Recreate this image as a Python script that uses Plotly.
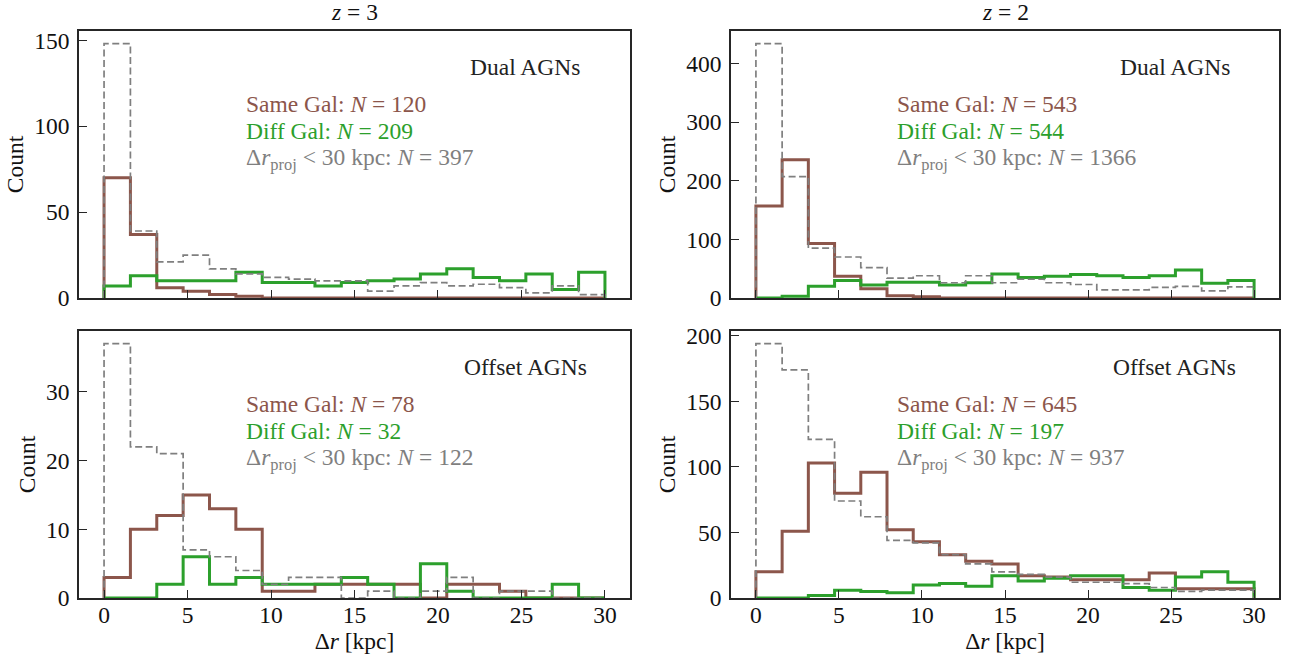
import numpy as np
import plotly.graph_objects as go

# ---------------- data ----------------
bin_edges = np.linspace(0, 30, 20)  # 19 bins over 0-30 kpc

# z = 3, Dual AGNs
same_z3_dual = [70, 37, 6, 4, 2, 1, 0, 0, 0, 0, 0, 0, 0, 0, 0, 0, 0, 0, 0]
diff_z3_dual = [7, 13, 10, 10, 10, 15, 9, 9, 7, 9, 10, 11, 14, 17, 12, 10, 14, 5, 15]
proj_z3_dual = [148, 39, 21, 25, 17, 14, 12, 11, 10, 10, 4, 7, 9, 7, 8, 6, 3, 7, 2]

# z = 2, Dual AGNs
same_z2_dual = [157, 236, 93, 37, 16, 4, 2, 0, 0, 0, 0, 0, 0, 0, 0, 0, 0, 0, 0]
diff_z2_dual = [0, 3, 20, 30, 22, 27, 27, 22, 26, 41, 35, 37, 40, 38, 35, 38, 48, 25, 30]
proj_z2_dual = [434, 207, 85, 70, 52, 34, 38, 26, 38, 26, 32, 26, 23, 14, 14, 18, 20, 12, 19]

# z = 3, Offset AGNs
same_z3_off = [3, 10, 12, 15, 13, 10, 1, 1, 2, 2, 2, 2, 0, 2, 2, 1, 0, 0, 0]
diff_z3_off = [0, 0, 2, 6, 2, 3, 2, 2, 2, 3, 2, 0, 5, 1, 0, 0, 0, 2, 0]
proj_z3_off = [37, 22, 21, 7, 6, 4, 2, 3, 3, 0, 1, 0, 1, 3, 0, 1, 1, 0, 0]

# z = 2, Offset AGNs
same_z2_off = [20, 51, 103, 80, 96, 52, 43, 33, 28, 26, 17, 16, 14, 14, 14, 19, 7, 7, 7]
diff_z2_off = [0, 0, 2, 6, 5, 4, 10, 11, 9, 17, 13, 15, 17, 17, 8, 6, 16, 20, 12]
proj_z2_off = [194, 174, 121, 74, 62, 44, 42, 33, 26, 20, 18, 16, 12, 12, 11, 8, 5, 6, 6]

panel_titles = ["<i>z</i> = 3", "<i>z</i> = 2"]
panel_labels = ["Dual AGNs", "Dual AGNs", "Offset AGNs", "Offset AGNs"]
n_same = [120, 543, 78, 645]
n_diff = [209, 544, 32, 197]
n_proj = [397, 1366, 122, 937]
y_dticks = [50, 100, 10, 50]
x_ticks = [0, 5, 10, 15, 20, 25, 30]

panels = [
    (same_z3_dual, diff_z3_dual, proj_z3_dual),
    (same_z2_dual, diff_z2_dual, proj_z2_dual),
    (same_z3_off, diff_z3_off, proj_z3_off),
    (same_z2_off, diff_z2_off, proj_z2_off),
]

# ---------------- style ----------------
BROWN = "#8c564b"
GREEN = "#2ca02c"
GRAY = "#7f7f7f"
FONT = "Liberation Serif, Times New Roman, Times, DejaVu Serif, serif"
AXC = "#262626"
TXT = 23.5

W, H = 1293, 656
ML, MR, MT, MB = 79, 14, 31, 58
PW, PH = W - ML - MR, H - MT - MB


def px_x(a, b):
    return [(a - ML) / PW, (b - ML) / PW]


def px_y(top, bottom):
    return [(H - MB - bottom) / PH, (H - MB - top) / PH]


xdomains = [px_x(79, 630), px_x(731, 1279), px_x(79, 630), px_x(731, 1279)]
ydomains = [px_y(31, 298), px_y(31, 298), px_y(331, 598), px_y(331, 598)]

fig = go.Figure()

for i, (same, diff, proj) in enumerate(panels):
    ax = "" if i == 0 else str(i + 1)
    for counts, color, width, dash in [
        (same, BROWN, 3, "solid"),
        (diff, GREEN, 3, "solid"),
        (proj, GRAY, 1.7, "7px,3.5px"),
    ]:
        e = list(bin_edges)
        xs = [e[0]] + e + [e[-1]]
        ys = [0] + list(counts) + [counts[-1], 0]
        fig.add_trace(go.Scatter(
            x=xs, y=ys, mode="lines", line_shape="hv",
            line=dict(color=color, width=width, dash=dash),
            xaxis="x" + ax, yaxis="y" + ax, showlegend=False,
            hoverinfo="skip",
        ))

    ymax = 1.05 * max(max(same), max(diff), max(proj))
    bottom_row = i >= 2
    xa = dict(
        domain=xdomains[i], range=[-1.5, 31.5], anchor="y" + ax,
        tickmode="array", tickvals=x_ticks, showticklabels=bottom_row,
        ticks="inside", ticklen=8, tickwidth=1.2, tickcolor=AXC,
        showline=True, linecolor=AXC, linewidth=1.6, mirror=True,
        showgrid=False, zeroline=False, automargin=False,
        ticklabelstandoff=-5,
        tickfont=dict(family=FONT, size=TXT, color="#111"),
    )
    if bottom_row:
        xa["title"] = dict(text="Δ<i>r</i> [kpc]", standoff=0,
                           font=dict(family=FONT, size=TXT, color="#111"))
    ya = dict(
        domain=ydomains[i], range=[0, ymax], anchor="x" + ax,
        dtick=y_dticks[i], tick0=0,
        ticks="inside", ticklen=8, tickwidth=1.2, tickcolor=AXC,
        showline=True, linecolor=AXC, linewidth=1.6, mirror=True,
        showgrid=False, zeroline=False, automargin=False,
        ticklabelstandoff=3,
        tickfont=dict(family=FONT, size=TXT, color="#111"),
        title=dict(text="Count", standoff=4,
                   font=dict(family=FONT, size=TXT, color="#111")),
    )
    fig.update_layout(**{"xaxis" + ax: xa, "yaxis" + ax: ya})

    xref = "x" + ax + " domain"
    yref = "y" + ax + " domain"
    fig.add_annotation(text=panel_labels[i], x=0.81, y=0.866, xref=xref, yref=yref,
                       xanchor="center", yanchor="middle", showarrow=False,
                       font=dict(family=FONT, size=TXT, color="#222"))
    fig.add_annotation(text=f"Same Gal: <i>N</i> = {n_same[i]}", x=0.30, y=0.727,
                       xref=xref, yref=yref, xanchor="left", yanchor="middle",
                       showarrow=False, font=dict(family=FONT, size=TXT, color=BROWN))
    fig.add_annotation(text=f"Diff Gal: <i>N</i> = {n_diff[i]}", x=0.30, y=0.627,
                       xref=xref, yref=yref, xanchor="left", yanchor="middle",
                       showarrow=False, font=dict(family=FONT, size=TXT, color=GREEN))
    fig.add_annotation(text=f"Δ<i>r</i><sub>proj</sub> &lt; 30 kpc: <i>N</i> = {n_proj[i]}",
                       x=0.30, y=0.52, xref=xref, yref=yref, xanchor="left",
                       yanchor="middle", showarrow=False,
                       font=dict(family=FONT, size=TXT, color=GRAY))

for j, t in enumerate(panel_titles):
    d = xdomains[j]
    fig.add_annotation(text=t, x=(d[0] + d[1]) / 2, y=1 + (MT - 12) / PH,
                       xref="paper", yref="paper", xanchor="center", yanchor="middle",
                       showarrow=False, font=dict(family=FONT, size=TXT, color="#111"))

fig.update_layout(
    width=W, height=H,
    margin=dict(l=ML, r=MR, t=MT, b=MB),
    paper_bgcolor="white", plot_bgcolor="white",
    font=dict(family=FONT),
)

fig.write_html("out.html", config={"displayModeBar": False},
               post_script="document.body.style.margin='0';document.body.style.padding='0';")
